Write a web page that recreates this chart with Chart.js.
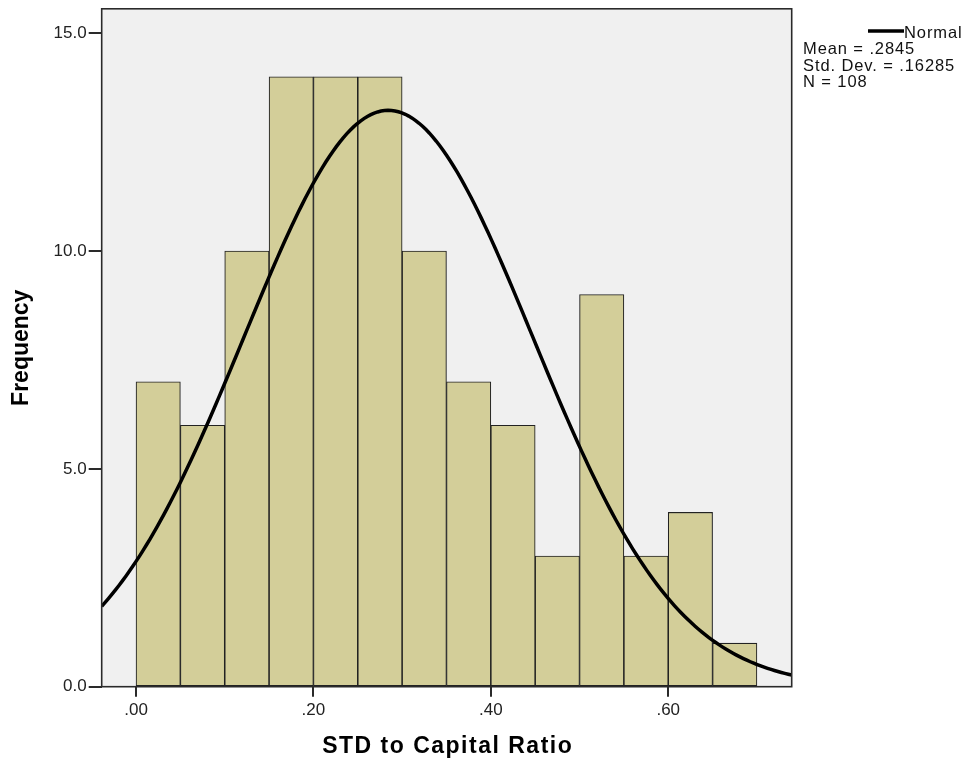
<!DOCTYPE html>
<html>
<head>
<meta charset="utf-8">
<title>STD to Capital Ratio</title>
<script src="https://cdn.jsdelivr.net/npm/chart.js@4/dist/chart.umd.min.js"></script>
<style>
  html, body { margin: 0; padding: 0; background: #ffffff; }
  #wrap { width: 966px; height: 761px; position: relative; }
</style>
</head>
<body>
<div id="wrap"><canvas id="histChart" width="966" height="761"></canvas></div>
<script>
// histogram bins (lower edges), width 0.05
const binStarts = [0.00, 0.05, 0.10, 0.15, 0.20, 0.25, 0.30, 0.35, 0.40, 0.45, 0.50, 0.55, 0.60, 0.65];
const frequencies = [7, 6, 10, 14, 14, 14, 10, 7, 6, 3, 9, 3, 4, 1];
const binWidth = 0.05;

const xTicks = [0, 0.2, 0.4, 0.6];
const yTicks = [0, 5, 10, 15];

// normal fit stats shown in the legend
const fitMean = 0.2845;
const fitSd = 0.16285;
const fitN = 108;

const xMin = -0.0387, xMax = 0.7392;
const yMax = 15.56;

const FONT = '"Liberation Sans", Arial, sans-serif';

const barData = binStarts.map((b, i) => ({ x: b + binWidth / 2, y: frequencies[i] }));

// normal density scaled to counts per bin
const curveData = [];
for (let k = 0; k <= 200; k++) {
    const x = xMin + (xMax - xMin) * k / 200;
    const z = (x - fitMean) / fitSd;
    const y = fitN * binWidth / (fitSd * Math.sqrt(2 * Math.PI)) * Math.exp(-0.5 * z * z);
    curveData.push({ x: x, y: y });
}

const frame = {
    id: 'frame',
    beforeDatasetsDraw(chart) {
        const { ctx, chartArea: a } = chart;
        ctx.save();
        ctx.fillStyle = '#f0f0f0';
        ctx.fillRect(a.left, a.top, a.right - a.left, a.bottom - a.top);
        ctx.restore();
    },
    afterDraw(chart) {
        const { ctx, chartArea: a } = chart;
        ctx.save();
        ctx.strokeStyle = '#2a2a2a';
        ctx.lineWidth = 1.6;
        ctx.strokeRect(a.left, a.top, a.right - a.left, a.bottom - a.top);

        // axis titles
        ctx.fillStyle = '#000000';
        ctx.textAlign = 'center';
        ctx.textBaseline = 'middle';
        ctx.font = 'bold 23px ' + FONT;
        ctx.letterSpacing = '1.5px';
        ctx.fillText('STD to Capital Ratio', (a.left + a.right) / 2 + 1, 747);
        ctx.letterSpacing = '0px';
        ctx.save();
        ctx.translate(22, (a.top + a.bottom) / 2);
        ctx.rotate(-Math.PI / 2);
        ctx.fillText('Frequency', 0, 0);
        ctx.restore();

        // legend
        ctx.strokeStyle = '#000000';
        ctx.lineWidth = 3.5;
        ctx.beginPath();
        ctx.moveTo(868, 31);
        ctx.lineTo(904, 31);
        ctx.stroke();
        ctx.font = '16.5px ' + FONT;
        ctx.letterSpacing = '0.9px';
        ctx.textAlign = 'left';
        ctx.fillStyle = '#111111';
        ctx.fillText('Normal', 904, 33);
        ctx.fillText('Mean = .' + String(fitMean).split('.')[1], 803, 49);
        ctx.fillText('Std. Dev. = .' + String(fitSd).split('.')[1], 803, 66);
        ctx.fillText('N = ' + fitN, 803, 82);
        ctx.restore();
    }
};

const ctx = document.getElementById('histChart').getContext('2d');
const histChart = new Chart(ctx, {
    type: 'bar',
    data: {
        datasets: [
            {
                type: 'line',
                data: curveData,
                borderColor: '#000000',
                borderWidth: 3.5,
                pointRadius: 0,
                fill: false,
                tension: 0,
                order: 0
            },
            {
                type: 'bar',
                data: barData,
                backgroundColor: '#d3ce99',
                borderColor: '#222222',
                borderWidth: 1.1,
                borderSkipped: false,
                barPercentage: 1,
                categoryPercentage: 1,
                order: 1
            }
        ]
    },
    options: {
        responsive: false,
        animation: false,
        layout: { padding: { top: 7.5, right: 174.3, left: 0, bottom: 0 } },
        plugins: { legend: { display: false }, tooltip: { enabled: false } },
        scales: {
            x: {
                type: 'linear',
                min: xMin,
                max: xMax,
                offset: false,
                afterBuildTicks: s => { s.ticks = xTicks.map(v => ({ value: v })); },
                afterFit: s => { s.height = 74.3; },
                ticks: {
                    autoSkip: false,
                    maxRotation: 0,
                    padding: 3,
                    color: '#222222',
                    font: { family: FONT, size: 17 },
                    callback: v => v.toFixed(2).replace(/^0/, '')
                },
                grid: { offset: false, drawOnChartArea: false, drawTicks: true, tickLength: 10, color: '#2a2a2a', lineWidth: 2 },
                border: { display: false }
            },
            y: {
                min: 0,
                max: yMax,
                afterBuildTicks: s => { s.ticks = yTicks.map(v => ({ value: v })); },
                afterFit: s => { s.width = 101.7; },
                ticks: {
                    padding: 2,
                    color: '#222222',
                    font: { family: FONT, size: 17, lineHeight: 0.8 },
                    callback: v => v.toFixed(1)
                },
                grid: { drawOnChartArea: false, drawTicks: true, tickLength: 13, color: '#2a2a2a', lineWidth: 2 },
                border: { display: false }
            }
        }
    },
    plugins: [frame]
});
</script>
</body>
</html>
